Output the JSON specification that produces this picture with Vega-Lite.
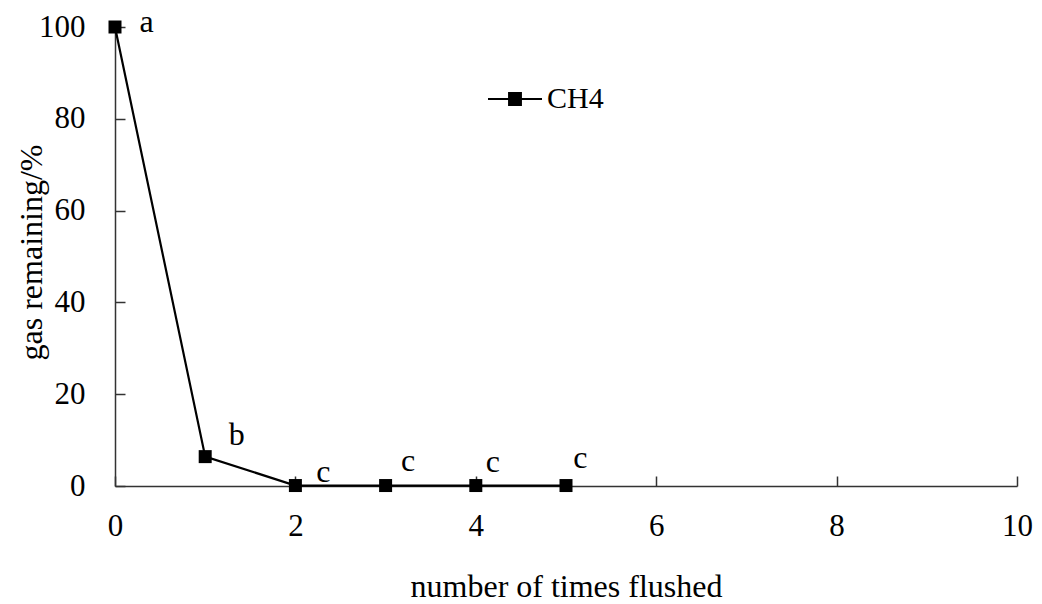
{
  "$schema": "https://vega.github.io/schema/vega-lite/v6.json",
  "width": 902,
  "height": 459,
  "autosize": {"type": "none"},
  "padding": {"left": 115, "top": 27, "right": 25, "bottom": 118},
  "background": "white",
  "config": {
    "view": {"stroke": null},
    "font": "Liberation Serif",
    "axis": {
      "grid": false,
      "domainColor": "#333333",
      "domainWidth": 1.5,
      "tickColor": "#333333",
      "tickWidth": 1.5,
      "tickSize": -10,
      "labelFont": "Liberation Serif",
      "labelFontSize": 31,
      "labelColor": "black",
      "labelFlush": false,
      "titleFont": "Liberation Serif",
      "titleFontSize": 32,
      "titleFontWeight": "normal",
      "titleColor": "black"
    }
  },
  "datasets": {
    "pts": [
      {"n": 0, "gas": 100, "series": "CH4"},
      {"n": 1, "gas": 6.4, "series": "CH4"},
      {"n": 2, "gas": 0.1, "series": "CH4"},
      {"n": 3, "gas": 0.1, "series": "CH4"},
      {"n": 4, "gas": 0.1, "series": "CH4"},
      {"n": 5, "gas": 0.1, "series": "CH4"}
    ],
    "labels": [
      {"lx": 0.35, "ly": 98.9, "txt": "a"},
      {"lx": 1.35, "ly": 8.9, "txt": "b"},
      {"lx": 2.31, "ly": 0.8, "txt": "c"},
      {"lx": 3.25, "ly": 3.2, "txt": "c"},
      {"lx": 4.19, "ly": 3.1, "txt": "c"},
      {"lx": 5.16, "ly": 3.9, "txt": "c"}
    ]
  },
  "layer": [
    {
      "data": {"name": "pts"},
      "mark": {"type": "line", "strokeWidth": 2.2, "clip": false},
      "encoding": {
        "x": {
          "field": "n", "type": "quantitative",
          "scale": {"domain": [0, 10], "nice": false, "zero": false},
          "axis": {"values": [0, 2, 4, 6, 8, 10], "format": "d", "title": "number of times flushed", "labelPadding": 35, "titleY": 110, "titleBaseline": "alphabetic"}
        },
        "y": {
          "field": "gas", "type": "quantitative",
          "scale": {"domain": [0, 100], "nice": false},
          "axis": {"values": [0, 20, 40, 60, 80, 100], "format": "d", "title": "gas remaining/%", "labelPadding": 40, "titleX": -84, "titleY": 225, "titleBaseline": "middle"}
        },
        "color": {
          "field": "series", "type": "nominal",
          "scale": {"range": ["black"]},
          "legend": {
            "title": null,
            "orient": "none",
            "legendX": 372,
            "legendY": 44,
            "padding": 0,
            "symbolType": "M-1,0L1,0M-0.22,-0.22L0.22,-0.22L0.22,0.22L-0.22,0.22Z",
            "symbolSize": 2916,
            "symbolStrokeWidth": 2,
            "symbolFillColor": "black",
            "symbolStrokeColor": "black",
            "labelFont": "Liberation Serif",
            "labelFontSize": 30,
            "labelColor": "black",
            "labelOffset": 4,
            "encode": {"symbols": {"update": {"fill": {"value": "black"}, "stroke": {"value": "black"}, "strokeWidth": {"value": 2}}}}
          }
        }
      }
    },
    {
      "data": {"name": "pts"},
      "mark": {"type": "point", "shape": "square", "filled": true, "size": 169, "opacity": 1, "clip": false},
      "encoding": {
        "x": {"field": "n", "type": "quantitative"},
        "y": {"field": "gas", "type": "quantitative"},
        "color": {"field": "series", "type": "nominal"}
      }
    },
    {
      "data": {"name": "labels"},
      "mark": {"type": "text", "align": "center", "baseline": "alphabetic", "fontSize": 32, "font": "Liberation Serif", "color": "black", "clip": false},
      "encoding": {
        "x": {"field": "lx", "type": "quantitative"},
        "y": {"field": "ly", "type": "quantitative"},
        "text": {"field": "txt"}
      }
    }
  ]
}
